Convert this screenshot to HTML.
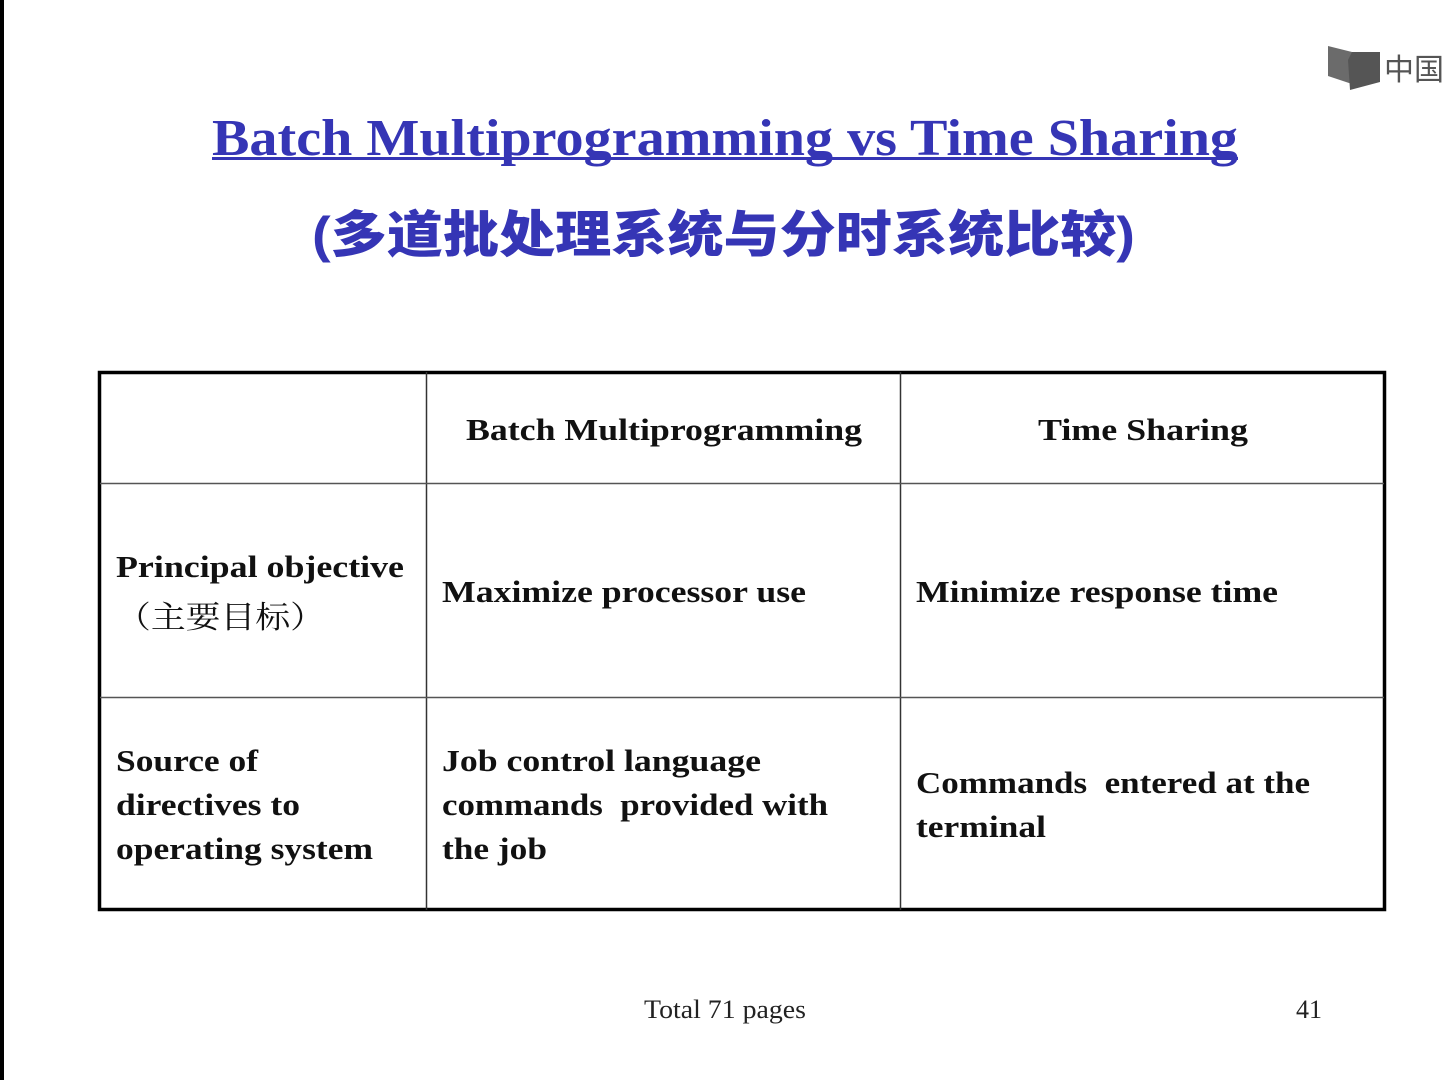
<!DOCTYPE html>
<html><head><meta charset="utf-8"><style>
html,body{margin:0;padding:0;background:#fff;width:1443px;height:1080px;overflow:hidden}
svg{display:block}
.t{font-family:"Liberation Serif",serif;font-weight:bold;font-size:31px;fill:#111}
</style></head><body>
<svg width="1443" height="1080" viewBox="0 0 1443 1080">
<rect x="0" y="0" width="1443" height="1080" fill="#fff"/>
<rect x="0" y="0" width="4" height="1080" fill="#000"/>
<polygon points="1328,46 1352,52 1352,84 1328,76" fill="#6b6b6b"/>
<polygon points="1352,52 1380,52 1380,82 1350,90 1348,60" fill="#555"/>
<text x="1384" y="80" font-family="Noto Sans CJK SC,sans-serif" font-size="30" fill="#555">中国</text>
<text x="212" y="155" textLength="1026" lengthAdjust="spacingAndGlyphs" font-family="Liberation Serif,serif" font-weight="bold" font-size="52" fill="#3535b5">Batch Multiprogramming vs Time Sharing</text>
<rect x="212" y="157" width="1026" height="3" fill="#3535b5"/>
<text x="312" y="252" textLength="823" lengthAdjust="spacingAndGlyphs" font-family="Liberation Sans,Noto Sans CJK SC,sans-serif" font-weight="900" font-size="50" fill="#3535b5">(多道批处理系统与分时系统比较)</text>
<rect x="99.5" y="372.5" width="1285" height="537" fill="none" stroke="#000" stroke-width="3.5"/>
<line x1="426.5" y1="372" x2="426.5" y2="910" stroke="#333" stroke-width="1.5"/>
<line x1="900.5" y1="372" x2="900.5" y2="910" stroke="#333" stroke-width="1.5"/>
<line x1="100" y1="483.5" x2="1384" y2="483.5" stroke="#555" stroke-width="1.5"/>
<line x1="100" y1="697.5" x2="1384" y2="697.5" stroke="#555" stroke-width="1.5"/>
<text class="t" x="466" y="440" textLength="396" lengthAdjust="spacingAndGlyphs">Batch Multiprogramming</text>
<text class="t" x="1038" y="440" textLength="210" lengthAdjust="spacingAndGlyphs">Time Sharing</text>
<text class="t" x="116" y="577" textLength="288" lengthAdjust="spacingAndGlyphs">Principal objective</text>
<text x="116" y="628" textLength="209" lengthAdjust="spacingAndGlyphs" font-family="Liberation Serif,Noto Serif CJK SC,serif" font-size="31" fill="#111">（主要目标）</text>
<text class="t" x="442" y="602" textLength="364" lengthAdjust="spacingAndGlyphs">Maximize processor use</text>
<text class="t" x="916" y="602" textLength="362" lengthAdjust="spacingAndGlyphs">Minimize response time</text>
<text class="t" x="116" y="771" textLength="142" lengthAdjust="spacingAndGlyphs">Source of</text>
<text class="t" x="116" y="815" textLength="184" lengthAdjust="spacingAndGlyphs">directives to</text>
<text class="t" x="116" y="859" textLength="257" lengthAdjust="spacingAndGlyphs">operating system</text>
<text class="t" x="442" y="771" textLength="319" lengthAdjust="spacingAndGlyphs">Job control language</text>
<text class="t" x="442" y="815" textLength="386" lengthAdjust="spacingAndGlyphs">commands&#160; provided with</text>
<text class="t" x="442" y="859" textLength="105" lengthAdjust="spacingAndGlyphs">the job</text>
<text class="t" x="916" y="793" textLength="394" lengthAdjust="spacingAndGlyphs">Commands&#160; entered at the</text>
<text class="t" x="916" y="837" textLength="130" lengthAdjust="spacingAndGlyphs">terminal</text>
<text x="644" y="1018" textLength="162" lengthAdjust="spacingAndGlyphs" font-family="Liberation Serif,serif" font-size="26" fill="#222">Total 71 pages</text>
<text x="1296" y="1018" font-family="Liberation Serif,serif" font-size="26" fill="#222">41</text>
</svg>
</body></html>
